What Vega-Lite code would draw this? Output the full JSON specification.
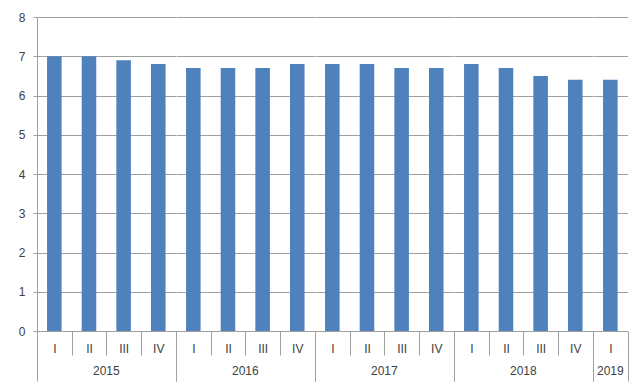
{
  "$schema": "https://vega.github.io/schema/vega-lite/v6.json",
  "padding": {"left": 18, "top": 11, "right": 5, "bottom": 5},
  "background": "white",
  "bounds": "flush",
  "data": {"values": [
    {"year": "2015", "period": "2015 I", "value": 7.0},
    {"year": "2015", "period": "2015 II", "value": 7.0},
    {"year": "2015", "period": "2015 III", "value": 6.9},
    {"year": "2015", "period": "2015 IV", "value": 6.8},
    {"year": "2016", "period": "2016 I", "value": 6.7},
    {"year": "2016", "period": "2016 II", "value": 6.7},
    {"year": "2016", "period": "2016 III", "value": 6.7},
    {"year": "2016", "period": "2016 IV", "value": 6.8},
    {"year": "2017", "period": "2017 I", "value": 6.8},
    {"year": "2017", "period": "2017 II", "value": 6.8},
    {"year": "2017", "period": "2017 III", "value": 6.7},
    {"year": "2017", "period": "2017 IV", "value": 6.7},
    {"year": "2018", "period": "2018 I", "value": 6.8},
    {"year": "2018", "period": "2018 II", "value": 6.7},
    {"year": "2018", "period": "2018 III", "value": 6.5},
    {"year": "2018", "period": "2018 IV", "value": 6.4},
    {"year": "2019", "period": "2019 I", "value": 6.4}
  ]},
  "facet": {
    "column": {
      "field": "year", "type": "ordinal",
      "header": {"labelOrient": "bottom", "title": null, "labelFont": "Liberation Sans", "labelFontSize": 12, "labelColor": "#404040", "labelPadding": 35}
    }
  },
  "spacing": 0,
  "resolve": {"scale": {"x": "independent"}},
  "spec": {
    "width": {"step": 34.65},
    "height": 314,
    "mark": {"type": "bar", "color": "#4F81BD", "width": {"band": 0.42}},
    "encoding": {
      "x": {
        "field": "period", "type": "nominal", "sort": null,
        "scale": {"paddingInner": 0, "paddingOuter": 0},
        "axis": {
          "title": null,
          "labelExpr": "split(datum.label, ' ')[1]",
          "labelAngle": 0,
          "tickBand": "extent",
          "tickSize": {"condition": {"test": "datum.index < 0 || indexof(['2015 IV','2016 IV','2017 IV','2018 IV','2019 I'], datum.value) >= 0", "value": 50}, "value": 24},
          "labelPadding": {"condition": {"test": "datum.index < 0 || indexof(['2015 IV','2016 IV','2017 IV','2018 IV','2019 I'], datum.value) >= 0", "value": -38}, "value": -12},
          "tickColor": "#a0a0a0",
          "domainColor": "#a0a0a0",
          "labelFont": "Liberation Sans",
          "labelFontSize": 12,
          "labelColor": "#404040",
          "grid": false
        }
      },
      "y": {
        "field": "value", "type": "quantitative",
        "scale": {"domain": [0, 8]},
        "axis": {
          "title": null,
          "values": [0, 1, 2, 3, 4, 5, 6, 7, 8],
          "grid": true,
          "gridColor": "#a0a0a0",
          "domainColor": "#a0a0a0",
          "tickColor": "#a0a0a0",
          "tickSize": 4,
          "labelPadding": 8,
          "labelFont": "Liberation Sans",
          "labelFontSize": 12,
          "labelColor": "#404040"
        }
      }
    }
  },
  "config": {"view": {"stroke": null}}
}
